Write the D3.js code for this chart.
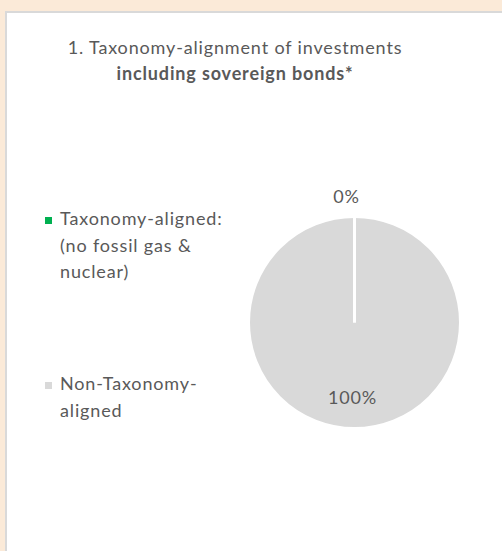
<!DOCTYPE html>
<html>
<head>
<meta charset="utf-8">
<script src="https://cdn.jsdelivr.net/npm/d3@7"></script>
<style>
  body { margin: 0; background: #fbead8; }
  svg { display: block; }
  text { font-family: Lato, "Open Sans", sans-serif; fill: #595959; letter-spacing: 0.85px; }
</style>
</head>
<body>
<div id="chart"></div>
<script>
// chart data
var categories = ["Taxonomy-aligned", "Non-Taxonomy-aligned"];
var legend_lines = [
  ["Taxonomy-aligned:", "(no fossil gas &", "nuclear)"],
  ["Non-Taxonomy-", "aligned"]
];
var values = [0, 100];
var value_labels = ["0%", "100%"];
var title_lines = ["1. Taxonomy-alignment of investments", "including sovereign bonds*"];

var width = 502,
  height = 551,
  font_size = 18;
var colorScale = d3.scaleOrdinal().domain(categories).range(["#00b050", "#d9d9d9"]);

var svg = d3
  .select("#chart")
  .append("svg")
  .attr("width", width)
  .attr("height", height);

// panel
svg.append("rect")
  .attr("x", 6).attr("y", 12)
  .attr("width", width).attr("height", height)
  .attr("fill", "#ffffff")
  .attr("stroke", "#d9d9d9")
  .attr("stroke-width", 2);

// title
var title = svg.append("text")
  .attr("text-anchor", "middle")
  .attr("font-size", font_size);
title.append("tspan").attr("x", 235).attr("y", 54).text(title_lines[0]);
title.append("tspan").attr("x", 235).attr("y", 80).attr("font-weight", "bold").text(title_lines[1]);

// pie
var cx = 354.5, cy = 322.5, radius = 106;
var pie = d3.pie().sort(null).value(function (d) { return d; });
var arcs = pie(values);
var arc = d3.arc().innerRadius(0).outerRadius(radius);

var g = svg.append("g").attr("transform", "translate(" + cx + "," + cy + ")");
g.selectAll("path.slice")
  .data(arcs)
  .enter()
  .append("path")
  .attr("class", "slice")
  .attr("d", arc)
  .attr("fill", function (d, i) { return colorScale(categories[i]); })
  .attr("stroke", "#ffffff")
  .attr("stroke-width", 3);

// slice borders (white separators at slice boundaries)
g.selectAll("line.sep")
  .data(arcs)
  .enter()
  .append("line")
  .attr("class", "sep")
  .attr("x1", 0).attr("y1", 0)
  .attr("x2", function (d) { return d3.pointRadial(d.startAngle, radius)[0]; })
  .attr("y2", function (d) { return d3.pointRadial(d.startAngle, radius)[1]; })
  .attr("stroke", "#ffffff")
  .attr("stroke-width", 3);

// value labels: small slice outside, big slice inside
var outerLabelArc = d3.arc().innerRadius(radius + 14).outerRadius(radius + 14);
var innerLabelArc = d3.arc().innerRadius(radius * 1.42).outerRadius(0);
g.selectAll("text.val")
  .data(arcs)
  .enter()
  .append("text")
  .attr("class", "val")
  .attr("text-anchor", "middle")
  .attr("font-size", font_size)
  .attr("transform", function (d, i) {
    var c = i === 0 ? outerLabelArc.centroid(d) : innerLabelArc.centroid(d);
    return "translate(" + (c[0] + (i === 0 ? -8 : -2)) + "," + (c[1] + (i === 0 ? 0 : 6)) + ")";
  })
  .text(function (d, i) { return value_labels[i]; });

// legend
var legend_y = [225, 390];
var leg = svg.selectAll("g.legend")
  .data(categories)
  .enter()
  .append("g")
  .attr("class", "legend")
  .attr("transform", function (d, i) { return "translate(45," + legend_y[i] + ")"; });
leg.append("rect")
  .attr("x", 0).attr("y", -8)
  .attr("width", 7).attr("height", 7)
  .attr("fill", function (d) { return colorScale(d); });
leg.each(function (d, i) {
  var t = d3.select(this).append("text").attr("font-size", font_size);
  legend_lines[i].forEach(function (line, j) {
    t.append("tspan").attr("x", 15).attr("y", j * 26.5).text(line);
  });
});
</script>
</body>
</html>
